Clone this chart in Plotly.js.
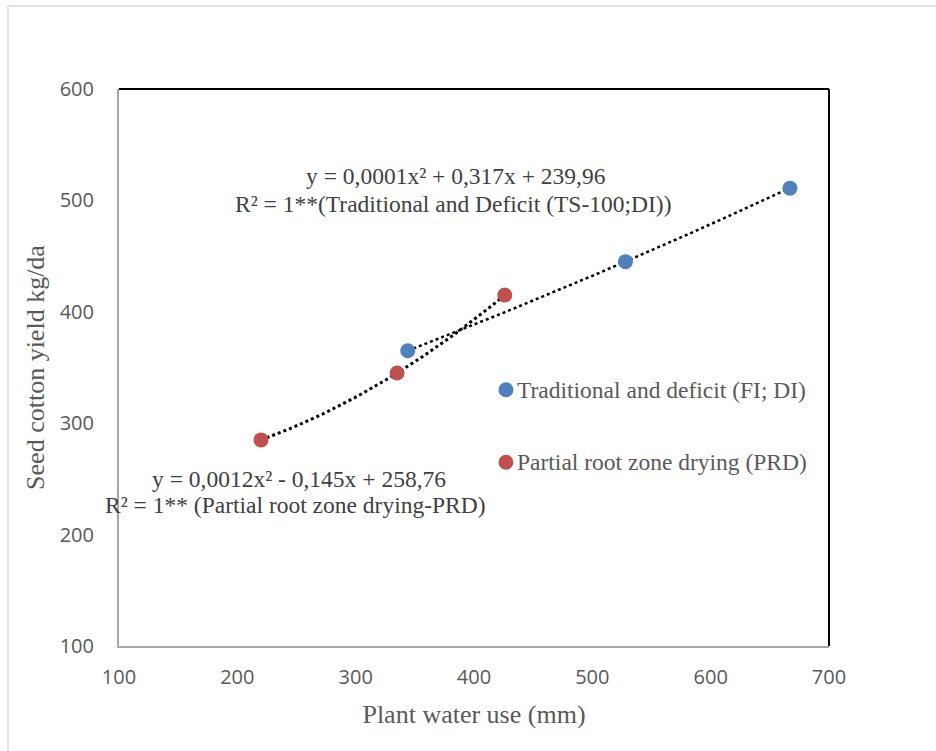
<!DOCTYPE html>
<html>
<head>
<meta charset="utf-8">
<script src="https://cdn.plot.ly/plotly-3.0.1.min.js"></script>
<style>html,body{margin:0;padding:0;background:#fff;}#chart{width:936px;height:751px;}</style>
</head>
<body>
<div id="chart"></div>
<script>
// Data
const tradName = "Traditional and deficit (FI; DI)";
const tradWater = [344, 528, 667];
const tradYield = [365, 445, 511];

const prdName = "Partial root zone drying (PRD)";
const prdWater = [220, 335, 426];
const prdYield = [285, 345, 415];

const xTicks = [100, 200, 300, 400, 500, 600, 700];
const yTicks = [100, 200, 300, 400, 500, 600];

const tradEquationLines = ["y = 0,0001x² + 0,317x + 239,96", "R² = 1**(Traditional and Deficit (TS-100;DI))"];
const prdEquationLines = ["y = 0,0012x² - 0,145x + 258,76", "R² = 1** (Partial root zone drying-PRD)"];

// Quadratic trendline through the data points (least squares)
function quadFit(xs, ys) {
  let n = xs.length, S = [0,0,0,0,0], T = [0,0,0];
  for (let i = 0; i < n; i++) {
    let p = 1;
    for (let k = 0; k < 5; k++) { S[k] += p; p *= xs[i]; }
    p = 1;
    for (let k = 0; k < 3; k++) { T[k] += ys[i] * p; p *= xs[i]; }
  }
  const M = [[S[0],S[1],S[2],T[0]],[S[1],S[2],S[3],T[1]],[S[2],S[3],S[4],T[2]]];
  for (let i = 0; i < 3; i++) {
    for (let j = i + 1; j < 3; j++) {
      const f = M[j][i] / M[i][i];
      for (let k = i; k < 4; k++) M[j][k] -= f * M[i][k];
    }
  }
  const c = [0,0,0];
  for (let i = 2; i >= 0; i--) {
    let s = M[i][3];
    for (let k = i + 1; k < 3; k++) s -= M[i][k] * c[k];
    c[i] = s / M[i][i];
  }
  return c;
}
function trend(xs, ys) {
  const c = quadFit(xs, ys);
  const x0 = Math.min(...xs), x1 = Math.max(...xs);
  const tx = [], ty = [];
  const steps = 60;
  for (let i = 0; i <= steps; i++) {
    const x = x0 + (x1 - x0) * i / steps;
    tx.push(x); ty.push(c[0] + c[1] * x + c[2] * x * x);
  }
  return {x: tx, y: ty};
}
const tTrad = trend(tradWater, tradYield);
const tPrd = trend(prdWater, prdYield);

const serif = "Liberation Serif, Times New Roman, serif";
const sans = "Open Sans, sans-serif";
const blue = "#4F81BD", red = "#C0504D";

const traces = [
  {x: tTrad.x, y: tTrad.y, mode: "lines", line: {color: "#000", width: 2.5, dash: "dot"}, showlegend: false, hoverinfo: "skip"},
  {x: tPrd.x, y: tPrd.y, mode: "lines", line: {color: "#000", width: 3, dash: "dot"}, showlegend: false, hoverinfo: "skip"},
  {x: tradWater, y: tradYield, name: tradName, mode: "markers", marker: {color: blue, size: 15}, showlegend: false},
  {x: prdWater, y: prdYield, name: prdName, mode: "markers", marker: {color: red, size: 15}, showlegend: false}
];

// legend drawn by hand (Excel-style wide spacing)
const legendItems = [
  {name: tradName, color: blue, y: 330},
  {name: prdName, color: red, y: 265}
];
const legendMarkerX = 427, legendTextX = 435;

const eqFont = {family: serif, size: 23.5, color: "#404040"};
const annotations = [
  {xref: "x", yref: "y", x: 385, y: 521.5, text: tradEquationLines[0], showarrow: false, font: eqFont},
  {xref: "x", yref: "y", x: 382, y: 497, text: tradEquationLines[1], showarrow: false, font: eqFont},
  {xref: "x", yref: "y", x: 252, y: 250, text: prdEquationLines[0], showarrow: false, font: eqFont},
  {xref: "x", yref: "y", x: 249, y: 226.5, text: prdEquationLines[1], showarrow: false, font: eqFont}
];
const shapes = [
  {type: "line", xref: "paper", yref: "paper", x0: 0, x1: 1, y0: 1, y1: 1, line: {color: "#000", width: 2}},
  {type: "line", xref: "paper", yref: "paper", x0: 1, x1: 1, y0: 0, y1: 1, line: {color: "#000", width: 2}},
  {type: "line", xref: "paper", yref: "paper", x0: (8 - 119) / 710, x1: (8 - 119) / 710, y0: (646 - 751) / 557, y1: (646 - 6) / 557, line: {color: "#D9D9D9", width: 1.5}},
  {type: "line", xref: "paper", yref: "paper", x0: (8 - 119) / 710, x1: (936 - 119) / 710, y0: (646 - 6) / 557, y1: (646 - 6) / 557, line: {color: "#D9D9D9", width: 1.5}}
];
legendItems.forEach(it => {
  shapes.push({type: "circle", xref: "x", yref: "y", xsizemode: "pixel", ysizemode: "pixel",
    xanchor: legendMarkerX, yanchor: it.y, x0: -7.5, x1: 7.5, y0: -7.5, y1: 7.5,
    fillcolor: it.color, line: {width: 0}});
  annotations.push({xref: "x", yref: "y", x: legendTextX, y: it.y, xanchor: "left", text: it.name,
    showarrow: false, font: {family: serif, size: 23.5, color: "#595959"}});
});

const layout = {
  width: 936, height: 751,
  margin: {l: 119, r: 107, t: 89, b: 105},
  paper_bgcolor: "#fff", plot_bgcolor: "#fff",
  showlegend: false,
  xaxis: {range: [100, 700], tickvals: xTicks, ticktext: xTicks.map(String), showgrid: false, zeroline: false,
          showline: true, linecolor: "#A6A6A6", linewidth: 2, ticks: "", ticklabelstandoff: 12,
          tickfont: {family: sans, size: 20, color: "#595959"},
          title: {text: "Plant water use (mm)", font: {family: serif, size: 26, color: "#595959"}, standoff: 16}},
  yaxis: {range: [100, 600], tickvals: yTicks, ticktext: yTicks.map(String), showgrid: false, zeroline: false,
          showline: true, linecolor: "#A6A6A6", linewidth: 2, ticks: "", ticklabelstandoff: 19,
          tickfont: {family: sans, size: 20, color: "#595959"},
          title: {text: "Seed cotton yield kg/da", font: {family: serif, size: 26, color: "#595959"}, standoff: 8}},
  shapes: shapes,
  annotations: annotations
};

Plotly.newPlot("chart", traces, layout, {displayModeBar: false, staticPlot: true});
</script>
</body>
</html>
